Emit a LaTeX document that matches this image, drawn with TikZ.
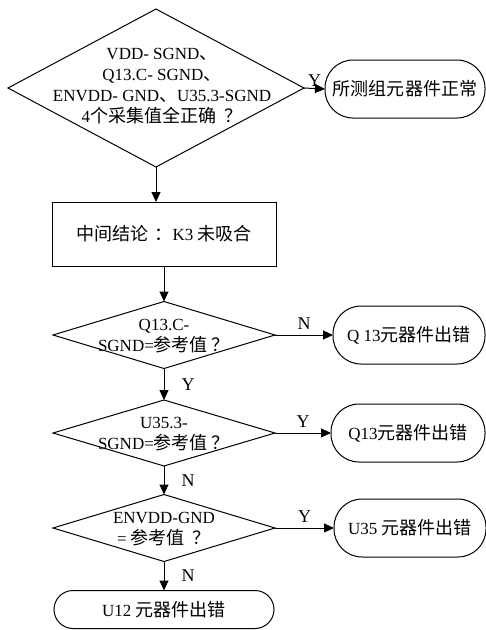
\documentclass[tikz,border=0pt]{standalone}
\usepackage{fontspec}
\setmainfont{Liberation Serif}
\newfontfamily\cjk[Scale=1.06]{Noto Sans CJK SC}
\usetikzlibrary{arrows.meta,shapes.geometric}
\begin{document}
\begin{tikzpicture}[x=1pt,y=-1pt, line width=1pt,
  >={Triangle[length=10pt,width=9pt]},
  every node/.style={font=\fontsize{17pt}{21pt}\selectfont},
  dia/.style={draw, shape=diamond, inner sep=0pt, outer sep=0pt},
  txt/.style={align=center, inner sep=0pt, font=\fontsize{17pt}{21pt}\selectfont},
  term/.style={draw, rectangle, rounded corners=28pt, minimum height=58pt, inner sep=2pt, outer sep=0pt},
  procbox/.style={draw, rectangle, minimum width=224pt, minimum height=64pt, outer sep=0pt},
  lab/.style={inner sep=0pt, font=\fontsize{18pt}{20pt}\selectfont}]
\useasboundingbox (0,0) rectangle (486,630);

\node[dia, minimum width=296pt, minimum height=158pt,
  label={[txt, yshift=2pt, xshift=6pt]center:{VDD- SGND{\cjk 、}\\Q13.C- SGND{\cjk 、}\\ENVDD- GND{\cjk 、}U35.3-SGND\\4{\cjk 个采集值全正确\hspace{8pt}？}}}] (d1) at (156,88) {};
\node[term, minimum width=160pt] (t1) at (405,89) {\cjk 所测组元器件正常};

\node[procbox] (b) at (164,234) {{\cjk 中间结论\hspace{6pt}：}K3 {\cjk 未吸合}};

\node[dia, minimum width=222pt, minimum height=67pt,
  label={[txt, yshift=-1pt]center:{Q13.C-\\SGND={\cjk 参考值 ？}}}] (d2) at (164,335) {};
\node[term, minimum width=152pt] (t2) at (409,335) {Q 13{\cjk 元器件出错}};

\node[dia, minimum width=222pt, minimum height=66pt,
  label={[txt, yshift=-1pt]center:{U35.3-\\SGND={\cjk 参考值 ？}}}] (d3) at (164,433) {};
\node[term, minimum width=154pt] (t3) at (408,433) {Q13{\cjk 元器件出错}};

\node[dia, minimum width=222pt, minimum height=67pt,
  label={[txt, yshift=-1pt]center:{ENVDD-GND\\= {\cjk 参考值\hspace{8pt}？}}}] (d4) at (164,528) {};
\node[term, minimum width=152pt] (t4) at (410,528) {U35 {\cjk 元器件出错}};

\node[term, minimum width=220pt, minimum height=38pt, rounded corners=19pt] (t5) at (164,609.5) {U12 {\cjk 元器件出错}};

\draw[->] (d1.east) -- (t1.west) node[lab, pos=0.5, above=2pt] {Y};
\draw[->] (d1.south) -- (d1.south |- b.north);
\draw[->] (b.south) -- (d2.north);
\draw[->] (d2.east) -- (t2.west) node[lab, midway, above=5pt] {N};
\draw[->] (d2.south) -- (d3.north) node[lab, midway, right=17pt] {Y};
\draw[->] (d3.east) -- (t3.west) node[lab, midway, above=5pt] {Y};
\draw[->] (d3.south) -- (d4.north) node[lab, midway, right=17pt] {N};
\draw[->] (d4.east) -- (t4.west) node[lab, midway, above=5pt] {Y};
\draw[->] (d4.south) -- (t5.north) node[lab, midway, right=17pt] {N};
\end{tikzpicture}
\end{document}
